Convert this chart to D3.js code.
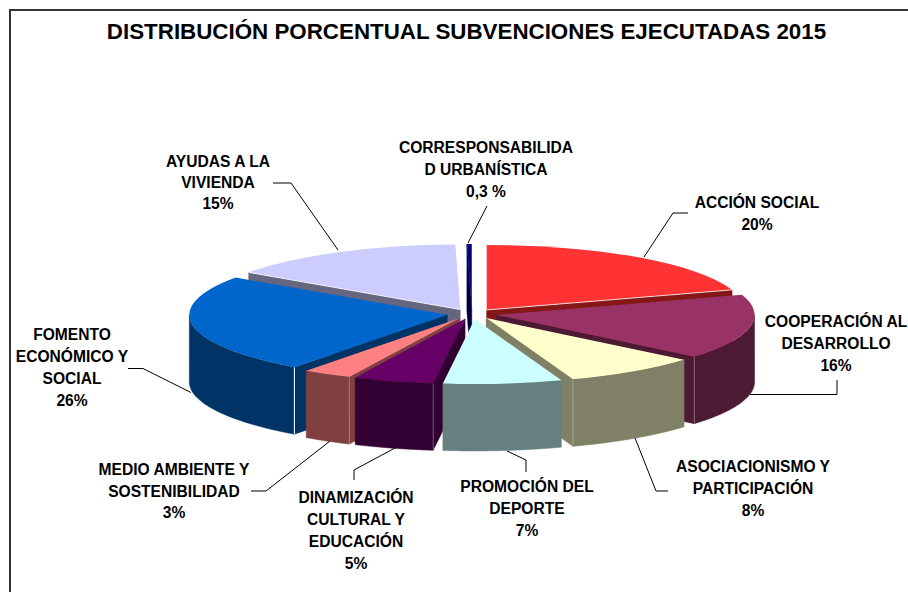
<!DOCTYPE html>
<html><head><meta charset="utf-8">
<script src="https://cdn.jsdelivr.net/npm/d3@7"></script>
<style>html,body{margin:0;padding:0;background:#fff}svg{display:block}text{font-family:"Liberation Sans",Arial,sans-serif;font-weight:bold;fill:#000}</style>
</head><body><div id="c"></div>
<script>
const titleText = "DISTRIBUCIÓN PORCENTUAL SUBVENCIONES EJECUTADAS 2015";
const categories = ["ACCIÓN SOCIAL","COOPERACIÓN AL DESARROLLO","ASOCIACIONISMO Y PARTICIPACIÓN","PROMOCIÓN DEL DEPORTE","DINAMIZACIÓN CULTURAL Y EDUCACIÓN","MEDIO AMBIENTE Y SOSTENIBILIDAD","FOMENTO ECONÓMICO Y SOCIAL","AYUDAS A LA VIVIENDA","CORRESPONSABILIDAD URBANÍSTICA"];
// slice shares as drawn in the picture
const shares = [20,16.1,8.45,7.42,5.03,3.1,24.6,15,0.3];
const percentLabels = ["20%","16%","8%","7%","5%","3%","26%","15%","0,3 %"];
const topColors = ["#FF3333","#993366","#FFFFCC","#CCFFFF","#660066","#FF8080","#0066CC","#CCCCFF","#000080"];
const wallColors = ["#851717","#4D1A33","#808066","#668080","#330033","#804040","#003366","#666680","#000040"];
// label text lines, centre x, first line centre y, leader polyline
const labelLayout = [
 {lines:["ACCIÓN SOCIAL"],x:757,y:203,dy:22,leader:[[644,257],[673,213],[688,213]]},
 {lines:["COOPERACIÓN AL","DESARROLLO"],x:836,y:322,dy:22,leader:[[750,394.5],[837,394.5],[837,380]]},
 {lines:["ASOCIACIONISMO Y","PARTICIPACIÓN"],x:753,y:467,dy:22,leader:[[635,438],[656,491],[668,491]]},
 {lines:["PROMOCIÓN DEL","DEPORTE"],x:527,y:487,dy:22,leader:[[507,451],[526,460],[526,472]]},
 {lines:["DINAMIZACIÓN","CULTURAL Y","EDUCACIÓN"],x:356,y:498,dy:21.7,leader:[[395,448],[354,470],[354,480]]},
 {lines:["MEDIO AMBIENTE Y","SOSTENIBILIDAD"],x:174,y:470,dy:21.5,leader:[[330,441],[266,491],[251,491]]},
 {lines:["FOMENTO","ECONÓMICO Y","SOCIAL"],x:72,y:335,dy:21.7,leader:[[191,392.5],[143,368.5],[128,368.5]]},
 {lines:["AYUDAS A LA","VIVIENDA"],x:218,y:162,dy:21,leader:[[338,250],[291,183],[273,183]]},
 {lines:["CORRESPONSABILIDA","D URBANÍSTICA"],x:486,y:148,dy:22,leader:[[468,243],[487,206]]}
];
const drawOrder = [8,7,0,6,1,5,4,2,3];
const litEdges = [0,7];

const W=908,H=592, cx=472, cy=314, rx=258, ry=65, depth=67, explode=25, explodeY=5;
const svg=d3.select("#c").append("svg").attr("width",W).attr("height",H);
svg.append("path").attr("d","M10,"+H+"V10H"+W).attr("fill","none").attr("stroke","#333").attr("stroke-width",2);
svg.append("text").attr("x",466.5).attr("y",39).attr("text-anchor","middle").attr("font-size",22.35).text(titleText);

const pie=d3.pie().sort(null).value(d=>d);
const slices=pie(shares);
const sx=d3.scaleLinear([-1,1],[-rx,rx]), sy=d3.scaleLinear([-1,1],[-ry,ry]);
const px=(a,o)=>o.x+sx(Math.sin(a)), py=(a,o)=>o.y+sy(-Math.cos(a));
const arc=d3.arc().innerRadius(0).outerRadius(rx);
const area=d3.area().x(d=>d.x).y0(d=>d.y).y1(d=>d.y+depth);
const PI=Math.PI;
slices.forEach(s=>{const m=(s.startAngle+s.endAngle)/2;
  s.o={x:cx+explode*Math.sin(m), y:cy-explodeY*Math.cos(m)};});

function sideWall(g,s,a,color){
  const o=s.o;
  g.append("path").attr("d",area([{x:o.x,y:o.y},{x:px(a,o),y:py(a,o)}])).attr("fill",color).attr("stroke",color).attr("stroke-width",.5);
}
function frontWall(g,s,color){
  const a0=Math.max(s.startAngle,PI/2), a1=Math.min(s.endAngle,3*PI/2);
  if(a1<=a0) return;
  const pts=d3.range(0,61).map(i=>{const a=a0+(a1-a0)*i/60;return {x:px(a,s.o),y:py(a,s.o)};});
  g.append("path").attr("d",area(pts)).attr("fill",color).attr("stroke",color).attr("stroke-width",.5);
  return [a0,a1];
}
drawOrder.forEach(i=>{
  const s=slices[i], g=svg.append("g"), c=wallColors[i];
  const a=s.startAngle, b=s.endAngle;
  if(a>PI) sideWall(g,s,a,c);
  if(b<PI) sideWall(g,s,b,c);
  const r=frontWall(g,s,c);
  if(r){
    const seam=(a>PI)?a:(b<PI?b:null);
    if(seam!==null){
      g.append("line").attr("x1",px(seam,s.o)).attr("x2",px(seam,s.o)).attr("y1",py(seam,s.o)).attr("y2",py(seam,s.o)+depth)
       .attr("stroke","#fff").attr("stroke-opacity",i===6?1:.3).attr("stroke-width",1);
    }
  }
  g.append("path").attr("d",arc(s)).attr("fill",topColors[i])
    .attr("transform",`translate(${s.o.x},${s.o.y}) scale(1,${ry/rx})`);
  if(litEdges.includes(i)){
    const e=(i===0)?b:a;
    g.append("line").attr("x1",s.o.x).attr("y1",s.o.y).attr("x2",px(e,s.o)).attr("y2",py(e,s.o))
      .attr("stroke","#fff").attr("stroke-opacity",.8).attr("stroke-width",1);
  }
});

const lineGen=d3.line();
labelLayout.forEach((l,i)=>{
  svg.append("path").attr("d",lineGen(l.leader)).attr("fill","none").attr("stroke","#000").attr("stroke-width",1);
  const all=l.lines.concat([percentLabels[i]]);
  all.forEach((t,j)=>{
    svg.append("text").attr("x",l.x).attr("y",l.y+j*l.dy).attr("dy","0.35em").attr("text-anchor","middle")
      .attr("font-size",15.6).text(t);
  });
});
</script></body></html>
